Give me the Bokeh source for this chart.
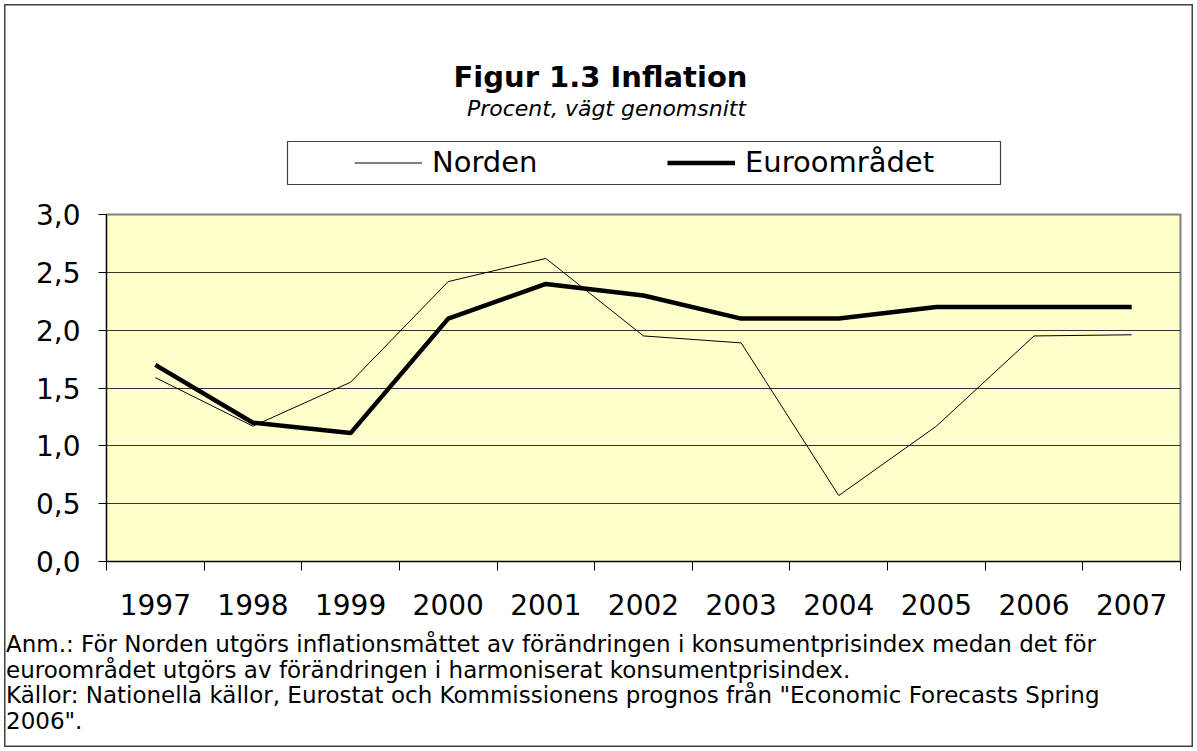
import html
from bokeh.plotting import figure
from bokeh.layouts import column
from bokeh.models import (Range1d, LinearAxis, FixedTicker, CustomJSTickFormatter, Label,
                          BoxAnnotation, Legend, LegendItem, Grid, ColumnDataSource, Div)
from bokeh.embed import file_html
from bokeh.resources import INLINE

# ---------------- data ----------------
years = ["1997", "1998", "1999", "2000", "2001", "2002", "2003", "2004", "2005", "2006", "2007"]
norden = [1.59, 1.17, 1.55, 2.42, 2.62, 1.95, 1.89, 0.57, 1.17, 1.95, 1.96]
euro = [1.70, 1.20, 1.11, 2.10, 2.40, 2.30, 2.10, 2.10, 2.20, 2.20, 2.20]
y_ticks = [0.0, 0.5, 1.0, 1.5, 2.0, 2.5, 3.0]
series_names = ["Norden", "Euroområdet"]

title_text = "Figur 1.3 Inflation"
subtitle_text = "Procent, vägt genomsnitt"
note_lines = [
    "Anm.: För Norden utgörs inflationsmåttet av förändringen i konsumentprisindex medan det för",
    "euroområdet utgörs av förändringen i harmoniserat konsumentprisindex.",
    "Källor: Nationella källor, Eurostat och Kommissionens prognos från \"Economic Forecasts Spring",
    "2006\".",
]

FONT = "DejaVu Sans"
W, H = 1197, 751
TOP_H, MAIN_H = 190, 442
BOT_H = H - TOP_H - MAIN_H
FL, FR = 106, 1180           # frame left / right (page px)
FT, FB = 214, 561            # frame top / bottom (page px)

n = len(years)
centers = [i + 0.5 for i in range(n)]   # category slot centres
edges = list(range(n + 1))              # category slot boundaries
src = ColumnDataSource(data=dict(x=centers, year=years, norden=norden, euro=euro))

# ---------------- header: title, subtitle, legend ----------------
top = figure(width=W, height=TOP_H, x_range=Range1d(FL, FR), y_range=Range1d(TOP_H, 0),
             min_border_left=FL, min_border_right=W - FR, min_border_top=0, min_border_bottom=0,
             x_axis_location=None, y_axis_location=None,
             output_backend="svg", toolbar_location=None)
top.grid.visible = False
top.outline_line_color = None
top.background_fill_color = None
top.border_fill_color = None

top.add_layout(Label(x=600, y=76, text=title_text, text_align="center", text_baseline="middle",
                     text_font=FONT, text_font_style="bold", text_font_size="29px",
                     text_color="black"))
top.add_layout(Label(x=606, y=108, text=subtitle_text, text_align="center",
                     text_baseline="middle", text_font=FONT, text_font_style="italic",
                     text_font_size="22px", text_color="black"))
top.add_layout(BoxAnnotation(left=287, right=1000, top=141, bottom=184, fill_alpha=0,
                             line_color="#404040", line_alpha=1.0, line_width=1.2))
# legend-only renderers (hidden; the visible series are drawn in the main chart)
lr1 = top.line("x", "norden", source=src, line_color="black", line_width=1, visible=False)
lr2 = top.line("x", "euro", source=src, line_color="black", line_width=4.5, visible=False)
legend = Legend(items=[LegendItem(label=series_names[0], renderers=[lr1]),
                       LegendItem(label=series_names[1], renderers=[lr2])],
                orientation="horizontal", location=(354 - FL, 11), click_policy="none",
                glyph_width=68, glyph_height=33, label_standoff=10, label_width=225,
                label_height=33, spacing=10, padding=0, margin=0,
                border_line_color=None, background_fill_alpha=0, inactive_fill_alpha=0,
                label_text_font=FONT, label_text_font_size="29px", label_text_color="black")
top.add_layout(legend, "center")

# ---------------- main chart ----------------
p = figure(width=W, height=MAIN_H, x_range=Range1d(0, n), y_range=Range1d(0, 3),
           output_backend="svg", toolbar_location=None,
           x_axis_location=None, y_axis_location=None,
           min_border_left=FL, min_border_right=W - FR,
           min_border_top=FT - TOP_H, min_border_bottom=TOP_H + MAIN_H - FB)
p.background_fill_color = "#FFFFCC"
p.border_fill_color = None
p.outline_line_color = "#808080"
p.outline_line_width = 2
p.grid.visible = False

p.add_layout(Grid(dimension=1, ticker=FixedTicker(ticks=y_ticks),
                  grid_line_color="#333333", grid_line_width=1))

yax = LinearAxis(ticker=FixedTicker(ticks=y_ticks),
                 formatter=CustomJSTickFormatter(code="return tick.toFixed(1).replace('.', ',');"),
                 major_tick_out=8, major_tick_in=0, minor_tick_out=0, minor_tick_in=0,
                 major_label_standoff=18, axis_line_color="black", major_tick_line_color="black",
                 major_label_text_font=FONT, major_label_text_font_size="28px",
                 major_label_text_color="black")
p.add_layout(yax, "left")

xax = LinearAxis(ticker=FixedTicker(ticks=centers, minor_ticks=edges),
                 major_label_overrides={c: y for c, y in zip(centers, years)},
                 major_tick_out=0, major_tick_in=0, minor_tick_out=9, minor_tick_in=0,
                 axis_line_color="black", major_tick_line_color=None,
                 minor_tick_line_color="black",
                 major_label_standoff=23, major_label_text_font=FONT,
                 major_label_text_font_size="28px", major_label_text_color="black")
p.add_layout(xax, "below")

p.line("x", "norden", source=src, line_color="black", line_width=1)
p.line("x", "euro", source=src, line_color="black", line_width=4.5)

# ---------------- notes ----------------
notes_html = ('<div style="padding-left:6px; font-family:\'DejaVu Sans\'; font-size:23px; '
              'line-height:25.7px; color:black; white-space:nowrap;">'
              + "<br>".join(html.escape(t, quote=False) for t in note_lines) + "</div>")
bot = Div(text=notes_html, width=W, height=BOT_H, margin=0)

layout = column(top, p, bot, spacing=0,
                styles={"box-shadow": "inset 0 0 0 4px white, inset 0 0 0 5.5px #404040",
                        "background-color": "white"})

open("out.html", "w").write(file_html(layout, INLINE))
